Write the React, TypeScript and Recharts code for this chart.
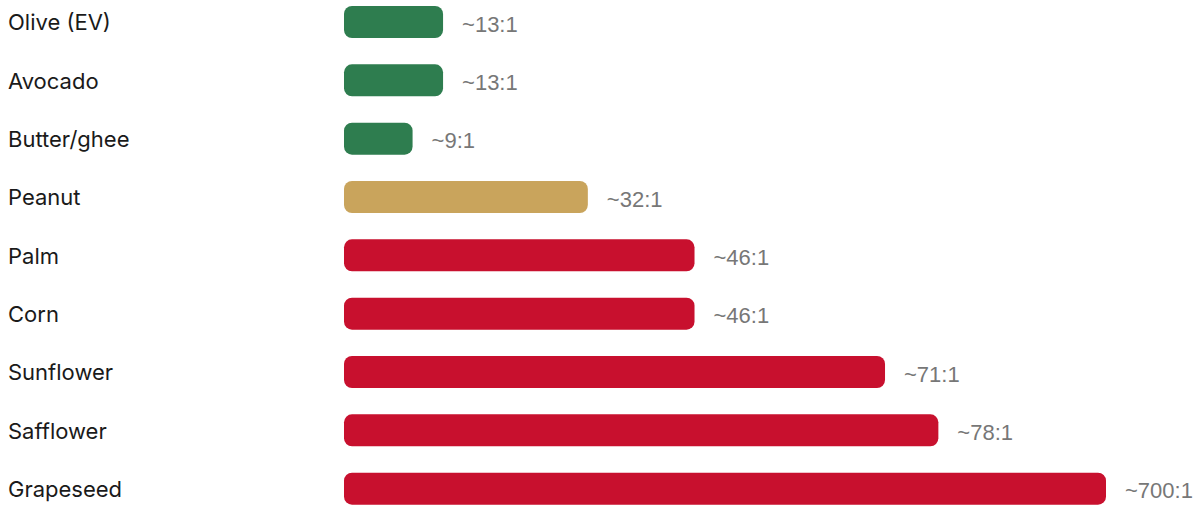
import React from 'react';
import { BarChart, Bar, XAxis, YAxis, Cell, LabelList } from 'recharts';

const oils = [
    'Olive (EV)',
    'Avocado',
    'Butter/ghee',
    'Peanut',
    'Palm',
    'Corn',
    'Sunflower',
    'Safflower',
    'Grapeseed',
];
// bar length (grapeseed is capped at 100 in the picture)
const barValues = [13, 13, 9, 32, 46, 46, 71, 78, 100];
const ratioLabels = ['~13:1', '~13:1', '~9:1', '~32:1', '~46:1', '~46:1', '~71:1', '~78:1', '~700:1'];
const levels = ['good', 'good', 'good', 'mid', 'bad', 'bad', 'bad', 'bad', 'bad'];

const levelColors: Record<string, string> = {
    good: '#2e7d4f',
    mid: '#c9a45c',
    bad: '#c8102e',
};

const data = oils.map((name, i) => ({
    name,
    value: barValues[i],
    label: ratioLabels[i],
    level: levels[i],
}));

const CategoryTick = (props: any) => {
    const { y, payload } = props;
    return (
        <text
            x={8}
            y={y}
            dy={8}
            textAnchor="start"
            fill="#1a1a1a"
            fontSize={22}
            fontFamily="Inter, 'Noto Sans', sans-serif"
        >
            {payload.value}
        </text>
    );
};

const App = () => {
    return (
        <div style={{ position: 'absolute', left: 0, top: -7, width: 1201, height: 525 }}>
            <BarChart
                width={1201}
                height={525}
                data={data}
                layout="vertical"
                margin={{ top: 0, right: 95, bottom: 0, left: 0 }}
            >
                <XAxis type="number" domain={[0, 100]} hide />
                <YAxis
                    type="category"
                    dataKey="name"
                    width={344}
                    axisLine={false}
                    tickLine={false}
                    tick={<CategoryTick />}
                />
                <Bar dataKey="value" barSize={32} radius={8} isAnimationActive={false}>
                    {data.map((d) => (
                        <Cell key={d.name} fill={levelColors[d.level]} />
                    ))}
                    <LabelList
                        dataKey="label"
                        position="right"
                        offset={19}
                        fill="#777777"
                        fontSize={22}
                        dy={2}
                        fontFamily="'Liberation Sans', Arial, sans-serif"
                    />
                </Bar>
            </BarChart>
        </div>
    );
};

export default App;
